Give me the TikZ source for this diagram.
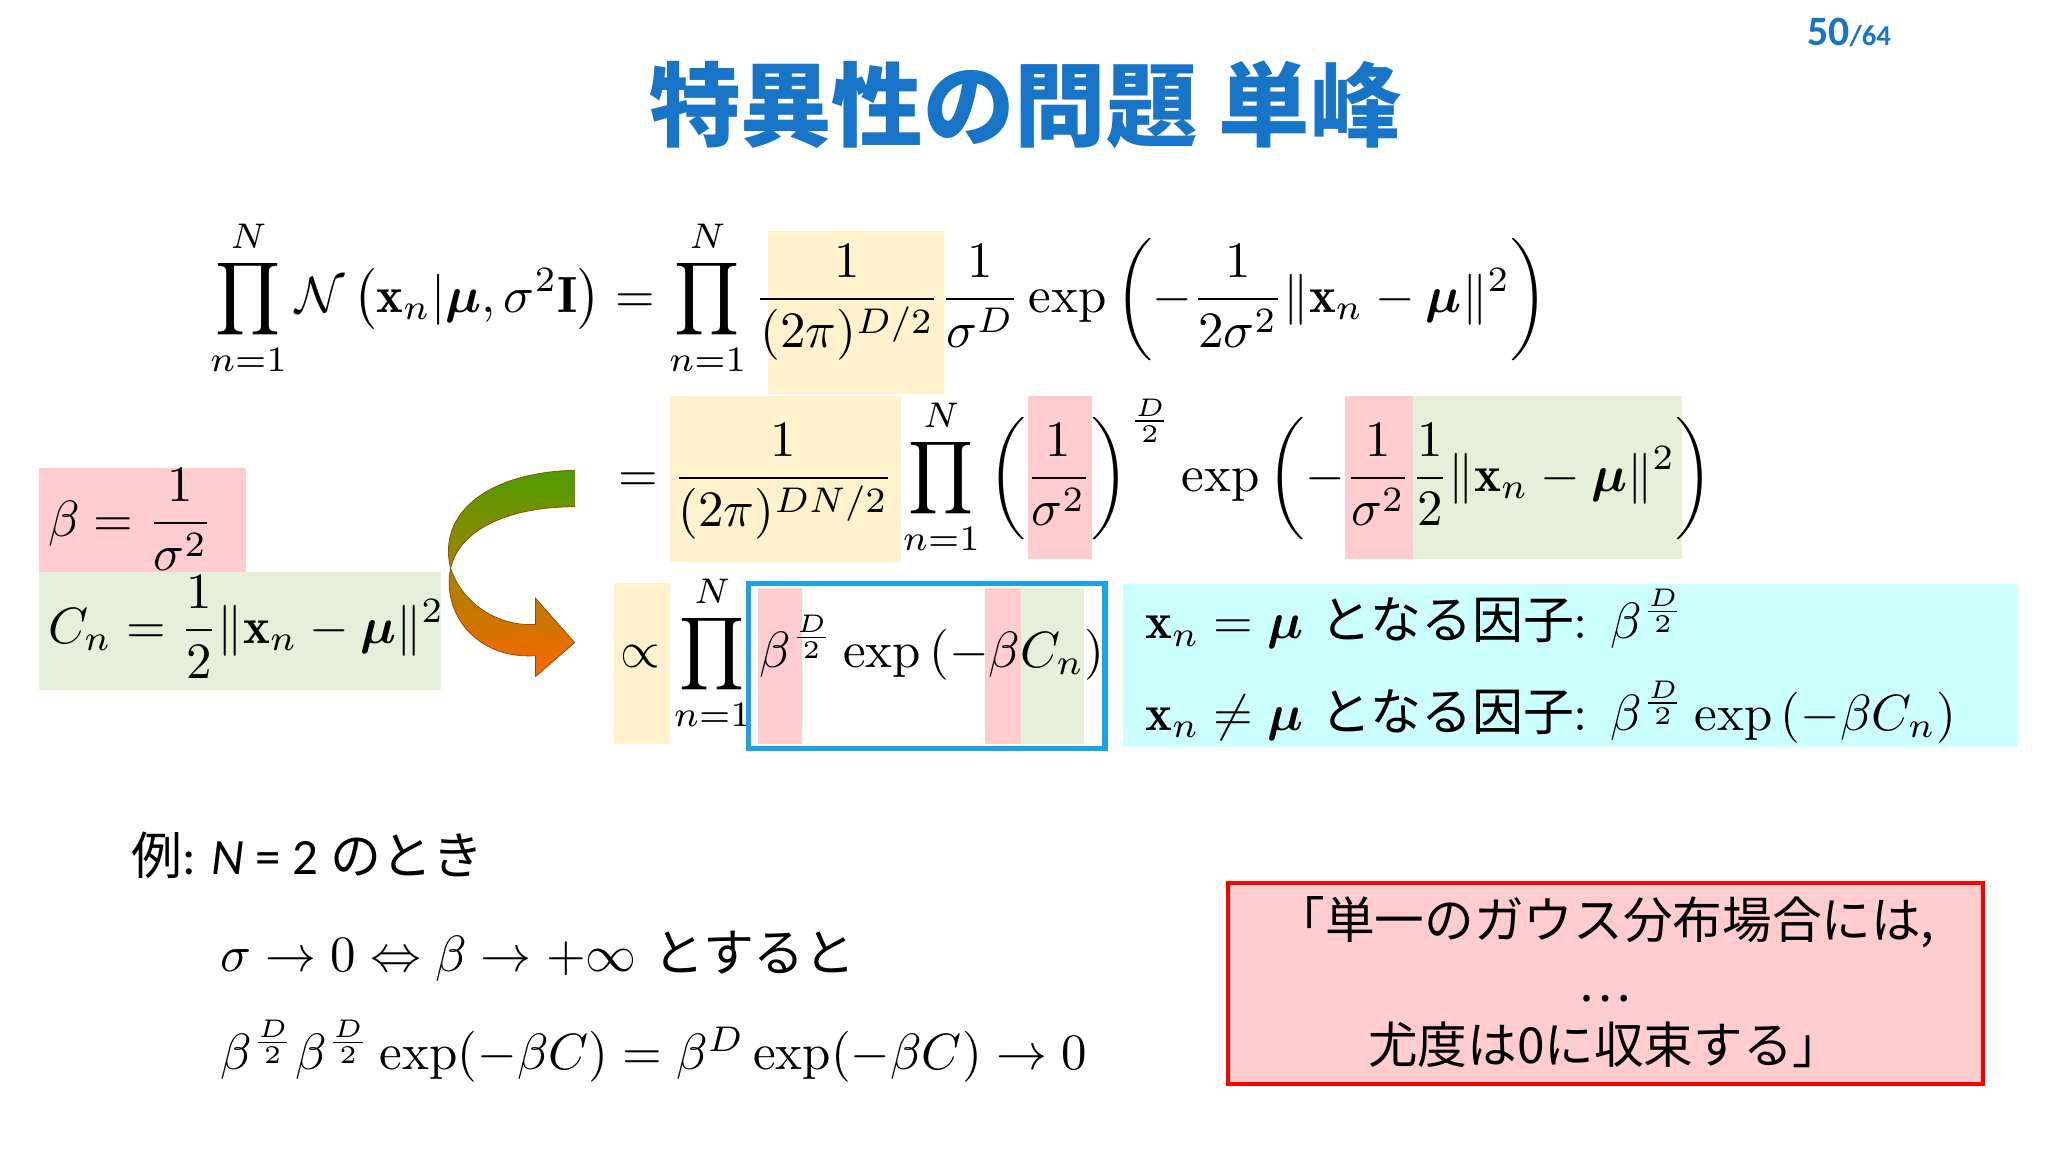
\documentclass[tikz,border=0pt]{standalone}
\usepackage{amsmath,amssymb,bm}
\usepackage{fontspec}
\newfontfamily\jp{Noto Sans CJK JP}
\newfontfamily\calfont{Carlito}
\definecolor{ttl}{HTML}{1874C6}
\definecolor{hy}{HTML}{FFF2CC}
\definecolor{hr}{HTML}{FFCCD0}
\definecolor{hg}{HTML}{E6F0D8}
\definecolor{hc}{HTML}{CCFFFF}
\definecolor{bb}{HTML}{1AA3E8}
\tikzset{eq/.style={anchor=west,inner sep=0pt,font=\fontsize{10}{12}\selectfont,scale=3.9,transform shape}}
\begin{document}
\begin{tikzpicture}[x=1pt,y=-1pt]
\useasboundingbox (0,0) rectangle (1568,882);
\fill[white] (0,0) rectangle (1568,882);
% header
\node[anchor=east,text=ttl,inner sep=0pt] (pg) at (1448,25) {\calfont\bfseries\fontsize{32}{34}\selectfont 50\fontsize{22}{24}\selectfont /64};
\node[text=ttl,inner sep=0pt] (title) at (785,80) {\jp\bfseries\fontsize{70}{76}\selectfont 特異性の問題 単峰};
% highlights
\fill[hy] (588,177) rectangle (723,302);
\fill[hy] (513,303) rectangle (690,430);
\fill[hr] (787,303) rectangle (836,428);
\fill[hr] (1030,303) rectangle (1082,428);
\fill[hg] (1082,303) rectangle (1288,428);
\fill[hr] (30,358) rectangle (188,438);
\fill[hg] (30,438) rectangle (338,528);
\fill[hy] (470,446) rectangle (513,570);
\fill[hr] (580,450) rectangle (614,570);
\fill[hr] (754,450) rectangle (782,570);
\fill[hg] (782,450) rectangle (830,570);
\fill[hc] (860,447) rectangle (1545,572);
% equations
\node[eq] (e1) at (160,228) {$\displaystyle\prod_{n=1}^{N}\mathcal{N}\left(\mathbf{x}_n|\bm{\mu},\sigma^2\mathbf{I}\right)=\prod_{n=1}^{N}\frac{1}{(2\pi)^{D/2}}\frac{1}{\sigma^D}\exp\left(-\frac{1}{2\sigma^2}\|\mathbf{x}_n-\bm{\mu}\|^2\right)$};
\node[eq] (e2) at (473,365) {$\displaystyle=\frac{1}{(2\pi)^{DN/2}}\prod_{n=1}^{N}\left(\frac{1}{\sigma^2}\right)^{\frac{D}{2}}\exp\left(-\frac{1}{\sigma^2}\frac{1}{2}\|\mathbf{x}_n-\bm{\mu}\|^2\right)$};
\node[eq] (e3) at (474,500) {$\displaystyle\propto\prod_{n=1}^{N}\beta^{\frac{D}{2}}\exp\left(-\beta C_n\right)$};
\draw[bb,line width=4pt] (573,447) rectangle (846,573);
\node[eq] (b) at (36,398) {$\displaystyle\beta=\frac{1}{\sigma^2}$};
\node[eq] (c) at (36,480) {$\displaystyle C_n=\frac{1}{2}\|\mathbf{x}_n-\bm{\mu}\|^2$};
\node[eq] (f1) at (876,474) {$\mathbf{x}_n=\bm{\mu}$ {\jp となる因子}: $\beta^{\frac{D}{2}}$};
\node[eq] (f2) at (876,545) {$\mathbf{x}_n\neq\bm{\mu}$ {\jp となる因子}: $\beta^{\frac{D}{2}}\exp\left(-\beta C_n\right)$};
% arrow
\shade[top color=green!45!black!70!yellow, bottom color=orange!80!red, draw=orange!60!black, line width=0.6pt]
 (440,360) .. controls (370,362) and (335,395) .. (345,435)
 .. controls (355,465) and (385,480) .. (410,478) -- (410,458) -- (440,492) -- (410,518) -- (410,502)
 .. controls (365,505) and (338,470) .. (345,435)
 .. controls (352,405) and (390,388) .. (440,388) -- cycle;
% bottom
\node[eq] (ex) at (100,655) {{\jp 例}\calfont: \textit{N} = 2 {\jp のとき}};
\node[eq] (l1) at (168,732) {$\sigma\rightarrow0\Leftrightarrow\beta\rightarrow+\infty$ {\jp とすると}};
\node[eq] (l2) at (168,805) {$\beta^{\frac{D}{2}}\beta^{\frac{D}{2}}\exp(-\beta C)=\beta^{D}\exp(-\beta C)\rightarrow0$};
\draw[red,fill=hr,line width=3pt] (940,676) rectangle (1518,830);
\node[align=center,inner sep=0pt,font=\jp\fontsize{38}{48}\selectfont] (q) at (1229,752) {「単一のガウス分布場合には,\\…\\尤度は0に収束する」};
\end{tikzpicture}
\end{document}
